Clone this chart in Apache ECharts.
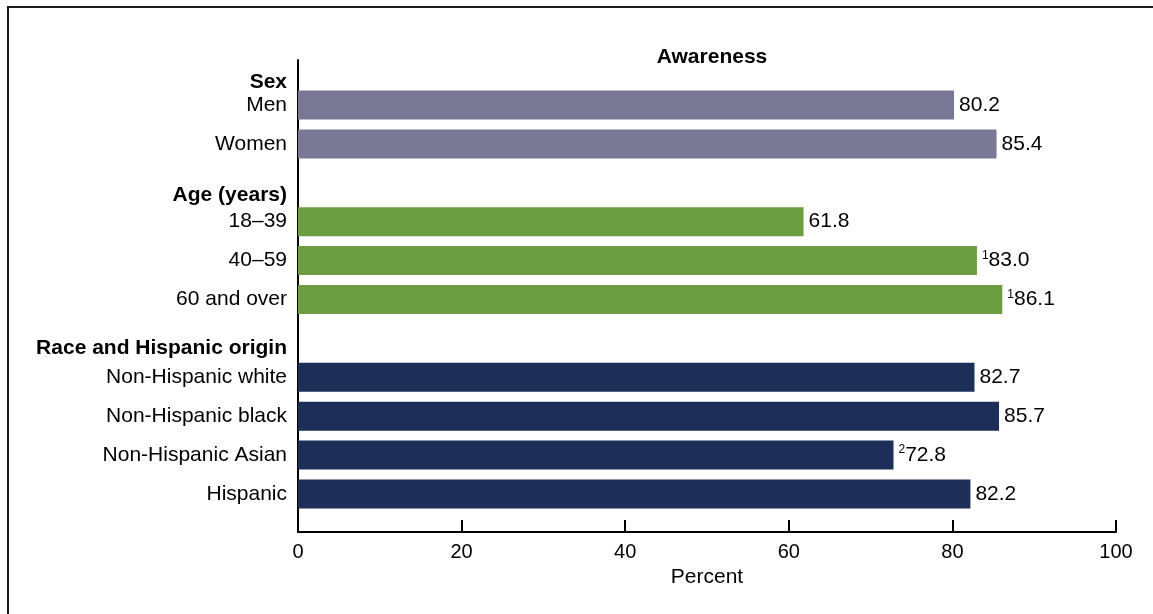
<!DOCTYPE html>
<html>
<head>
<meta charset="utf-8">
<script src="https://cdn.jsdelivr.net/npm/echarts@6/dist/echarts.min.js"></script>
<style>
  html, body { margin: 0; padding: 0; background: #fff; }
  #wrap { position: relative; width: 1153px; height: 614px; overflow: hidden; }
  #chart { position: absolute; left: 0; top: 0; width: 1153px; height: 614px; }
  #frame { position: absolute; left: 7px; top: 6px; width: 1300px; height: 700px;
           border-top: 2px solid #1a1a1a; border-left: 2px solid #1a1a1a; pointer-events: none; }
</style>
</head>
<body>
<div id="wrap"><div id="chart"></div><div id="frame"></div></div>
<script>
// ---- data ----
const categories = ['Sex', 'Men', 'Women', 'Age (years)', '18–39', '40–59', '60 and over',
  'Race and Hispanic origin', 'Non-Hispanic white', 'Non-Hispanic black', 'Non-Hispanic Asian', 'Hispanic'];
const values = [null, 80.2, 85.4, null, 61.8, 83.0, 86.1, null, 82.7, 85.7, 72.8, 82.2];
const footnotes = ['', '', '', '', '', '1', '1', '', '', '', '2', ''];
const groups = [0, 0, 0, 1, 1, 1, 1, 2, 2, 2, 2, 2];
const isHeader = [true, false, false, true, false, false, false, true, false, false, false, false];
const xTicks = [0, 20, 40, 60, 80, 100];
const chartTitle = 'Awareness';
const xName = 'Percent';

// ---- styles ----
const groupColors = ['#7a7995', '#6c9d41', '#1d2e58'];
const headerStyleKeys = { 0: 'h1', 3: 'h2', 7: 'h3' };
const FONT = '"Liberation Sans", Arial, Helvetica, sans-serif';
const FS = 21;
const slot = 38.9;
const barTop = 105 - 1.5 * slot;

const chart = echarts.init(document.getElementById('chart'), null, { renderer: 'canvas' });
chart.setOption({
  animation: false,
  textStyle: { fontFamily: FONT },
  title: {
    text: chartTitle, left: 707, top: 42, textAlign: 'center',
    textStyle: { fontFamily: FONT, fontSize: FS, fontWeight: 'bold', color: '#000' }
  },
  grid: [
    { left: 298, right: 37, top: barTop, height: slot * categories.length, containLabel: false },
    { left: 298, right: 37, top: 60, bottom: 82, containLabel: false }
  ],
  xAxis: [
    { gridIndex: 0, type: 'value', min: xTicks[0], max: xTicks[xTicks.length - 1], show: false },
    {
      gridIndex: 1, type: 'value', min: xTicks[0], max: xTicks[xTicks.length - 1], interval: xTicks[1] - xTicks[0],
      axisLine: { show: true, lineStyle: { color: '#000', width: 2 } },
      axisTick: { show: true, inside: true, length: 12, lineStyle: { color: '#000', width: 2 } },
      axisLabel: { fontFamily: FONT, fontSize: 20, color: '#000', margin: 10 },
      splitLine: { show: false },
      name: xName, nameLocation: 'middle', nameGap: 35,
      nameTextStyle: { fontFamily: FONT, fontSize: FS, color: '#000' }
    }
  ],
  yAxis: [
    {
      gridIndex: 0, type: 'category', data: categories, inverse: true,
      axisLine: { show: false }, axisTick: { show: false }, splitLine: { show: false },
      axisLabel: {
        margin: 11, fontFamily: FONT, fontSize: FS, color: '#000',
        formatter: function (v, i) {
          if (isHeader[i]) return '{' + headerStyleKeys[i] + '|' + v + '}';
          return v;
        },
        rich: {
          h1: { fontFamily: FONT, fontSize: FS, fontWeight: 'bold', color: '#000', padding: [32, 0, 0, 0] },
          h2: { fontFamily: FONT, fontSize: FS, fontWeight: 'bold', color: '#000', padding: [25, 0, 0, 0] },
          h3: { fontFamily: FONT, fontSize: FS, fontWeight: 'bold', color: '#000', padding: [19, 0, 0, 0] }
        }
      }
    },
    {
      gridIndex: 1, type: 'value', min: 0, max: 1,
      axisLine: { show: true, lineStyle: { color: '#000', width: 2 } },
      axisTick: { show: false }, axisLabel: { show: false }, splitLine: { show: false }
    }
  ],
  series: [{
    type: 'bar', xAxisIndex: 0, yAxisIndex: 0,
    data: values,
    barWidth: 29,
    itemStyle: { color: function (p) { return groupColors[groups[p.dataIndex]]; } },
    label: {
      show: true, position: 'right', distance: 5,
      formatter: function (p) {
        if (p.value == null) return '';
        const fn = footnotes[p.dataIndex];
        const v = Number(p.value).toFixed(1);
        return fn ? '{s|' + fn + '}{v|' + v + '}' : '{v|' + v + '}';
      },
      rich: {
        v: { fontFamily: FONT, fontSize: FS, color: '#000', lineHeight: 22 },
        s: { fontFamily: FONT, fontSize: 12, color: '#000', verticalAlign: 'top', lineHeight: 22, padding: [0, 0, 6, 0] }
      }
    }
  }]
});
</script>
</body>
</html>
